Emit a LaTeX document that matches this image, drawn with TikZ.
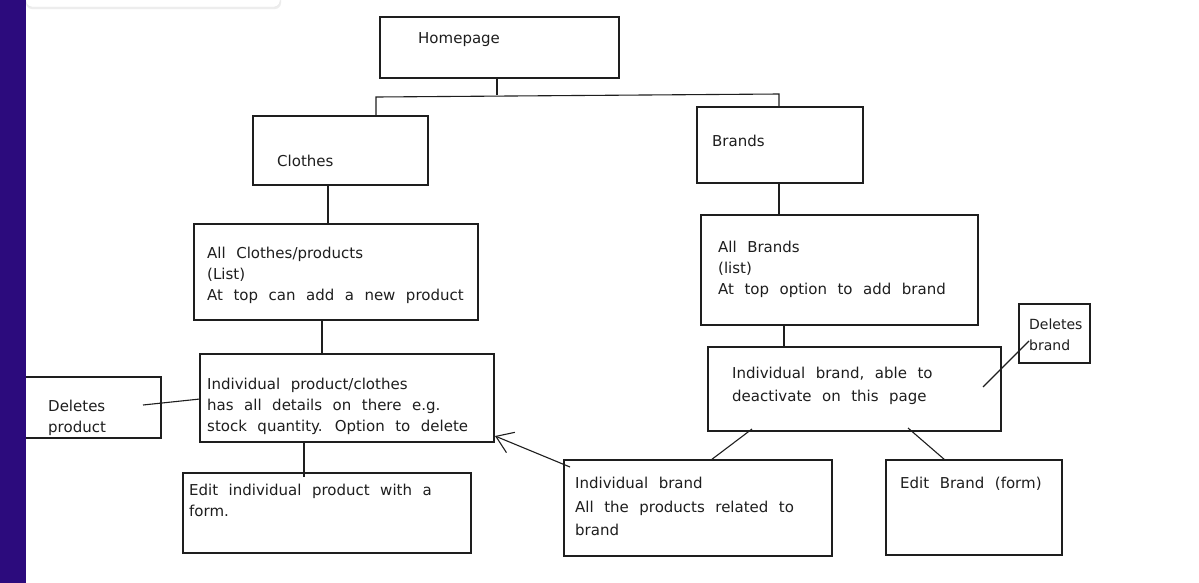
\documentclass[tikz,border=0pt]{standalone}
\usepackage{fontspec}
\setmainfont{DejaVu Sans}[WordSpace=2.2]
\usetikzlibrary{calc,arrows.meta}
\definecolor{ink}{HTML}{1E1E1E}
\definecolor{stripc}{RGB}{44,11,125}
\begin{document}
\begin{tikzpicture}[x=1pt,y=-1pt,
  box/.style={draw=ink, line width=1.2pt, rectangle, inner sep=0pt, outer sep=0pt, anchor=north west},
  lbl/.style={anchor=north west, inner sep=0pt, align=left, text=ink, font=\fontsize{15}{21}\selectfont},
  conn/.style={draw=ink, line width=1.1pt}]
\useasboundingbox (0,0) rectangle (1199,582);
\fill[white] (0,0) rectangle (1199,582);
% top panel
\fill[black!7, rounded corners=6pt] (26,-20) rectangle (281,9);
\draw[black!10, fill=white, rounded corners=6pt] (26,-20) rectangle (280,7);
% boxes
\node[box, minimum width=239pt, minimum height=61pt] (hp) at (380,17) {};
\node[box, minimum width=175pt, minimum height=69pt] (clothes) at (253,116) {};
\node[box, minimum width=166pt, minimum height=76pt] (brands) at (697,107) {};
\node[box, minimum width=284pt, minimum height=96pt] (allc) at (194,224) {};
\node[box, minimum width=277pt, minimum height=110pt] (allb) at (701,215) {};
\node[box, minimum width=294pt, minimum height=88pt] (prod) at (200,354) {};
\node[box, minimum width=141pt, minimum height=61pt] (del) at (20,377) {};
\node[box, minimum width=288pt, minimum height=80pt] (edit) at (183,473) {};
\node[box, minimum width=293pt, minimum height=84pt] (ib) at (708,347) {};
\node[box, minimum width=71pt, minimum height=59pt] (dbr) at (1019,304) {};
\node[box, minimum width=268pt, minimum height=96pt] (ibr) at (564,460) {};
\node[box, minimum width=176pt, minimum height=95pt] (eb) at (886,460) {};
% texts
\node[lbl] (hpt) at (418,32) {Homepage};
\node[lbl] (clothest) at (277,155) {Clothes};
\node[lbl] (brandst) at (712,135) {Brands};
\node[lbl] (allct) at (207,247) {All Clothes/products\\(List)\\At top can add a new product};
\node[lbl] (allbt) at (718,241) {All Brands\\(list)\\At top option to add brand};
\node[lbl] (prodt) at (207,378) {Individual product/clothes\\has all details on there e.g.\\stock quantity. Option to delete};
\node[lbl] (delt) at (48,400) {Deletes\\product};
\node[lbl] (editt) at (189,484) {Edit individual product with a\\form.};
\node[lbl] (ibt) at (732,367) {Individual brand, able to\\[2pt]deactivate on this page};
\node[lbl, font=\fontsize{14}{21}\selectfont] (dbrt) at (1029,319) {Deletes\\brand};
\node[lbl] (ibrt) at (575,477) {Individual brand\\[2.5pt]All the products related to\\[2.5pt]brand};
\node[lbl] (ebt) at (900,477) {Edit Brand (form)};
% connectors
\draw[conn] ($(hp.south west)+(117,0)$) -- ++(0,17);
\draw[conn] ($(clothes.north west)+(123,0)$) -- ++(0,-19) -- ($(brands.north west)+(82,-13)$) -- ($(brands.north west)+(82,0)$);
\draw[conn] ($(clothes.south west)+(75,0)$) -- ($(allc.north west)+(134,0)$);
\draw[conn] ($(brands.south west)+(82,0)$) -- ($(allb.north west)+(78,0)$);
\draw[conn] ($(allc.south west)+(128,0)$) -- ($(prod.north west)+(122,0)$);
\draw[conn] ($(allb.south west)+(83,0)$) -- ($(ib.north west)+(76,0)$);
\draw[conn] ($(prod.south west)+(104,0)$) -- ($(edit.north west)+(121,4)$);
\draw[conn] ($(del.north east)+(-18,28)$) -- ($(prod.north west)+(0,45)$);
\draw[conn, -{Straight Barb[length=16pt,width=22pt,line width=1.1pt]}] ($(ibr.north west)+(6,7)$) -- ($(prod.south east)+(1,-6)$);
\draw[conn] ($(ib.south west)+(44,-2)$) -- ($(ibr.north west)+(147,0)$);
\draw[conn] ($(ib.south west)+(200,-3)$) -- ($(eb.north west)+(59,0)$);
\draw[conn] ($(ib.north east)+(-18,40)$) -- ($(dbr.north west)+(10,37)$);
% left strip
\fill[stripc] (0,-1) rectangle (26,583);
\end{tikzpicture}
\end{document}
